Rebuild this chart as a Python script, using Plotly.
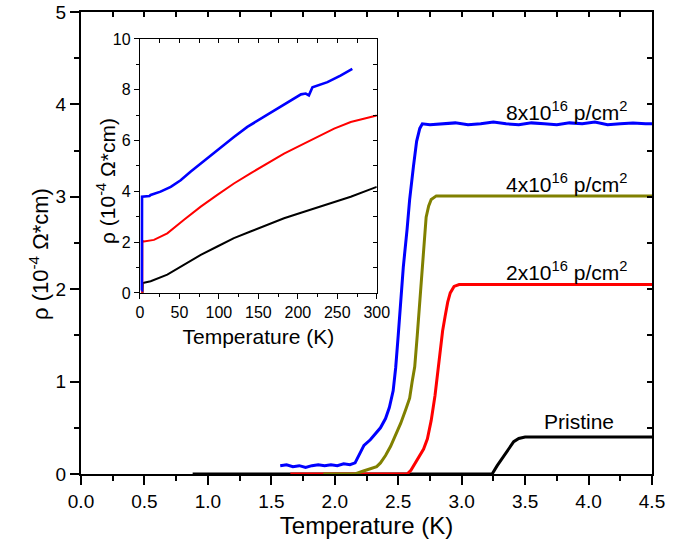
import plotly.graph_objects as go

# ---------------- main panel data (T in K, rho in 1e-4 Ohm*cm) ----------------
t_8e16 = [1.57, 1.62, 1.67, 1.72, 1.77, 1.82, 1.87, 1.92, 1.97, 2.02, 2.07, 2.12, 2.16,
          2.20, 2.23, 2.28, 2.32, 2.36, 2.40, 2.43, 2.46, 2.48, 2.50, 2.52, 2.54, 2.57,
          2.59, 2.62, 2.645, 2.67, 2.69, 2.75, 2.85, 2.95, 3.05, 3.15, 3.25, 3.35, 3.45,
          3.55, 3.65, 3.75, 3.85, 3.95, 4.05, 4.15, 4.25, 4.35, 4.45, 4.5]
r_8e16 = [0.09, 0.10, 0.08, 0.09, 0.07, 0.09, 0.10, 0.09, 0.10, 0.09, 0.11, 0.10, 0.12,
          0.22, 0.31, 0.37, 0.43, 0.50, 0.60, 0.72, 0.90, 1.15, 1.50, 1.88, 2.24, 2.65,
          2.97, 3.33, 3.60, 3.74, 3.79, 3.78, 3.79, 3.80, 3.78, 3.79, 3.81, 3.79, 3.78,
          3.80, 3.79, 3.78, 3.80, 3.79, 3.81, 3.78, 3.79, 3.80, 3.79, 3.79]

t_4e16 = [1.91, 2.16, 2.22, 2.28, 2.33, 2.36, 2.40, 2.44, 2.48, 2.52, 2.56, 2.59, 2.61,
          2.63, 2.65, 2.67, 2.69, 2.70, 2.72, 2.74, 2.76, 2.80, 2.84, 4.5]
r_4e16 = [0.00, 0.00, 0.03, 0.06, 0.08, 0.12, 0.20, 0.30, 0.42, 0.55, 0.70, 0.82, 1.00,
          1.16, 1.50, 1.88, 2.25, 2.50, 2.78, 2.90, 2.97, 3.01, 3.01, 3.01]

t_2e16 = [1.65, 2.57, 2.60, 2.65, 2.70, 2.73, 2.76, 2.79, 2.81, 2.83, 2.85, 2.87, 2.89,
          2.91, 2.94, 2.98, 4.5]
r_2e16 = [0.00, 0.00, 0.04, 0.15, 0.27, 0.38, 0.58, 0.85, 1.10, 1.35, 1.55, 1.71, 1.86,
          1.96, 2.03, 2.05, 2.05]

t_pristine = [0.88, 3.24, 3.28, 3.33, 3.38, 3.41, 3.45, 3.50, 4.5]
r_pristine = [0.00, 0.00, 0.09, 0.19, 0.29, 0.35, 0.385, 0.40, 0.40]

# ---------------- inset data (T in K, rho in 1e-4 Ohm*cm) ----------------
ti_8e16 = [2.0, 2.4, 2.6, 5, 9, 12, 13.5, 26, 39, 51.5, 64, 77, 89.6, 106.5, 119, 136,
           153, 170, 187, 204, 210, 214, 218.5, 237.5, 254, 269]
ri_8e16 = [0.10, 0.10, 3.79, 3.80, 3.79, 3.82, 3.86, 3.99, 4.18, 4.44, 4.77, 5.10, 5.42,
           5.82, 6.14, 6.54, 6.86, 7.19, 7.52, 7.82, 7.85, 7.78, 8.10, 8.30, 8.56, 8.82]

ti_2e16 = [2.5, 2.9, 3.0, 5, 17.7, 34.6, 55.8, 77, 98, 119, 140, 161, 182.5, 204, 225,
           246, 267, 300]
ri_2e16 = [0.00, 0.00, 2.05, 2.03, 2.09, 2.35, 2.88, 3.40, 3.86, 4.31, 4.71, 5.10, 5.49,
           5.82, 6.14, 6.47, 6.73, 6.99]

ti_pristine = [3.2, 3.5, 5, 13.5, 34.6, 55.8, 77, 98, 119, 140, 161, 182.5, 204, 225,
               246, 267, 300]
ri_pristine = [0.00, 0.39, 0.40, 0.46, 0.72, 1.11, 1.50, 1.83, 2.16, 2.42, 2.68, 2.94,
               3.16, 3.37, 3.59, 3.79, 4.18]

labels = ["8x10<sup>16</sup> p/cm<sup>2</sup>", "4x10<sup>16</sup> p/cm<sup>2</sup>",
          "2x10<sup>16</sup> p/cm<sup>2</sup>", "Pristine"]
label_x = [4.32, 4.32, 4.32, 4.22]
label_y = [3.93, 3.15, 2.20, 0.57]

ytitle = "ρ (10<sup>-4</sup> Ω*cm)"
xtitle = "Temperature (K)"

FONT = "Arial, Liberation Sans, sans-serif"
BLUE, OLIVE, RED, BLACK = "#0000FF", "#808000", "#FF0000", "#000000"

fig = go.Figure()
for t, r, c in [(t_pristine, r_pristine, BLACK), (t_2e16, r_2e16, RED),
                (t_4e16, r_4e16, OLIVE), (t_8e16, r_8e16, BLUE)]:
    fig.add_trace(go.Scatter(x=t, y=r, mode="lines", line=dict(color=c, width=3),
                             xaxis="x", yaxis="y", showlegend=False, hoverinfo="skip"))
for t, r, c, w in [(ti_pristine, ri_pristine, BLACK, 2), (ti_2e16, ri_2e16, RED, 2),
                   (ti_8e16, ri_8e16, BLUE, 2.6)]:
    fig.add_trace(go.Scatter(x=t, y=r, mode="lines", line=dict(color=c, width=w),
                             xaxis="x2", yaxis="y2", showlegend=False, hoverinfo="skip"))
# empty traces so the mirrored tick axes get drawn
fig.add_trace(go.Scatter(x=[], y=[], xaxis="x3", yaxis="y3", showlegend=False))
fig.add_trace(go.Scatter(x=[], y=[], xaxis="x4", yaxis="y4", showlegend=False))

main_ax = dict(showline=True, linecolor="black", linewidth=2, showgrid=False,
               zeroline=False, tickcolor="black", tickwidth=1.5, automargin=False)
inset_ax = dict(showline=True, linecolor="black", linewidth=1.3, showgrid=False,
                zeroline=False, tickcolor="black", tickwidth=1.2, automargin=False)

# inset domain
ix0, ix1 = 0.1033, 0.518
iy0, iy1 = 0.3918, 0.9416

fig.update_layout(
    template="none",
    width=696, height=543,
    margin=dict(l=81, r=44, t=12, b=69, autoexpand=False),
    paper_bgcolor="white", plot_bgcolor="white",
    font=dict(family=FONT, color="black"),
    xaxis=dict(main_ax, domain=[0, 1], range=[0, 4.5], dtick=0.5, tick0=0,
               ticks="outside", ticklen=9, tickformat=".1f",
               minor=dict(dtick=0.25, ticks="outside", ticklen=5, tickcolor="black", tickwidth=1.5),
               tickfont=dict(size=19), anchor="y",
               title=dict(text=xtitle, font=dict(size=24), standoff=1)),
    yaxis=dict(main_ax, domain=[0, 1], range=[0, 5], dtick=1, ticks="outside", ticklen=9,
               minor=dict(dtick=0.5, ticks="outside", ticklen=5, tickcolor="black", tickwidth=1.5),
               tickfont=dict(size=19), anchor="x"),
    xaxis3=dict(main_ax, overlaying="x", side="top", anchor="y3", range=[0, 4.5],
                dtick=0.25, ticks="inside", ticklen=5, showticklabels=False),
    yaxis3=dict(main_ax, overlaying="y", side="right", anchor="x3", range=[0, 5],
                dtick=0.5, ticks="inside", ticklen=5, showticklabels=False),
    xaxis2=dict(inset_ax, domain=[ix0, ix1], range=[0, 300], dtick=50, ticks="outside",
                ticklen=5, minor=dict(dtick=25, ticks="outside", ticklen=3, tickcolor="black"),
                tickfont=dict(size=16), anchor="y2",
                title=dict(text=xtitle, font=dict(size=21), standoff=8)),
    yaxis2=dict(inset_ax, domain=[iy0, iy1], range=[0, 10], dtick=2, ticks="outside",
                ticklen=5, minor=dict(dtick=1, ticks="outside", ticklen=3, tickcolor="black"),
                tickfont=dict(size=16), anchor="x2"),
    xaxis4=dict(inset_ax, overlaying="x2", side="top", anchor="y4", range=[0, 300],
                dtick=25, ticks="inside", ticklen=4, showticklabels=False),
    yaxis4=dict(inset_ax, overlaying="y2", side="right", anchor="x4", range=[0, 10],
                dtick=1, ticks="inside", ticklen=4, showticklabels=False),
)

# y-axis titles (placed as rotated text, slightly below the axis centre as in the original)
fig.add_annotation(x=(39 - 81) / 571, y=(474 - 254) / 462, xref="paper", yref="paper",
                   text=ytitle, textangle=-90, showarrow=False, xanchor="center",
                   yanchor="middle", font=dict(size=22, family=FONT))
fig.add_annotation(x=(106 - 81) / 571, y=(474 - 181) / 462, xref="paper", yref="paper",
                   text=ytitle, textangle=-90, showarrow=False, xanchor="center",
                   yanchor="middle", font=dict(size=21, family=FONT))

for txt, xv, yv in zip(labels, label_x, label_y):
    fig.add_annotation(x=xv, y=yv, xref="x", yref="y", text=txt, showarrow=False,
                       xanchor="right", yanchor="middle", font=dict(size=21, family=FONT))

fig.write_html("out.html", config={"displayModeBar": False},
               post_script="document.body.style.margin='0px';document.body.style.overflow='hidden';")
